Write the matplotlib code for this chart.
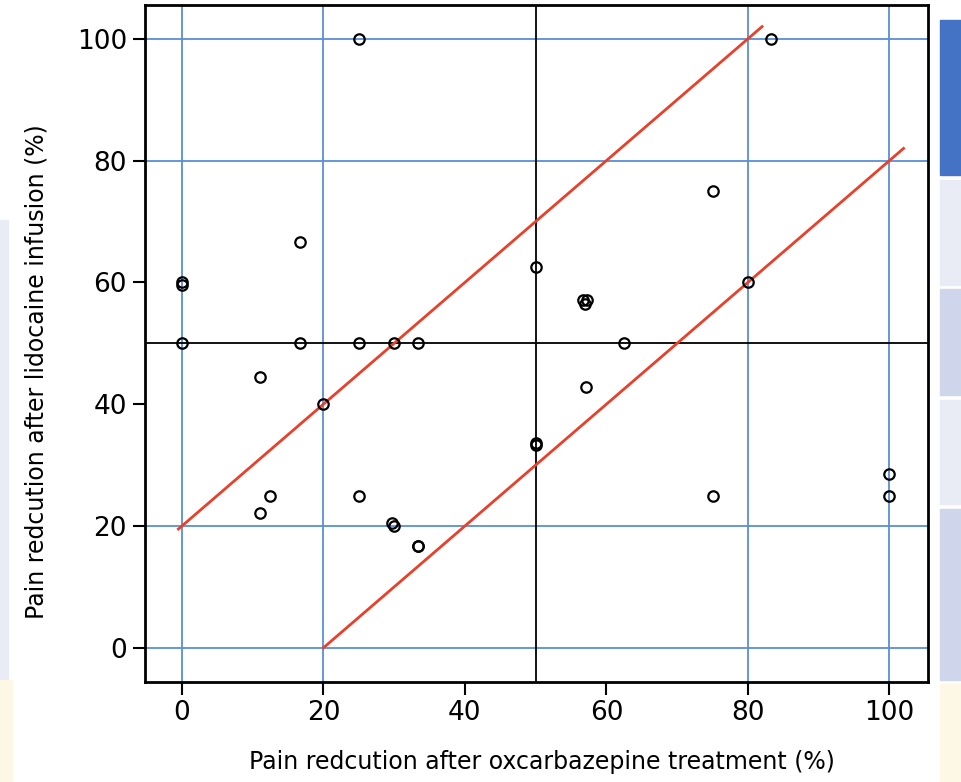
import numpy as np
import matplotlib.pyplot as plt
from matplotlib.patches import Rectangle

# pain reduction (%) per patient
oxc = [0, 0, 0, 25, 16.7, 16.7, 25, 30, 33.3, 11.1, 20, 12.5, 11.1, 25,
       29.7, 30, 33.3, 33.4, 50, 50, 50, 56.7, 57.3, 57.0, 62.5, 57.1,
       75, 80, 83.3, 75, 100, 100]
lido = [60, 59.6, 50, 100, 66.7, 50, 50, 50, 50, 44.4, 40, 25, 22.2, 25,
        20.5, 20, 16.7, 16.7, 62.5, 33.3, 33.6, 57.1, 57.1, 56.5, 50, 42.9,
        75, 60, 100, 25, 28.6, 25]

upper_x = [-0.5, 82]
lower_x = [20, 102]
offset = 20

grid_vals = [0, 20, 80, 100]
ticks = [0, 20, 40, 60, 80, 100]

plt.rcParams['font.family'] = ['DejaVu Sans']

fig = plt.figure(figsize=(9.61, 7.82), dpi=100)

# bits of the slide behind the chart
bg = [(0.0, 0.131, 0.008, 0.588, '#e9ebf5'),
      (0.0, 0.0, 0.012, 0.131, '#fdf8e6'),
      (0.978, 0.776, 0.022, 0.198, '#4472c4'),
      (0.978, 0.636, 0.022, 0.134, '#e9ebf5'),
      (0.978, 0.495, 0.022, 0.135, '#cfd5ea'),
      (0.978, 0.355, 0.022, 0.134, '#e9ebf5'),
      (0.978, 0.131, 0.022, 0.218, '#cfd5ea'),
      (0.978, 0.0, 0.022, 0.125, '#fdf8e6')]
for x0, y0, w, h, c in bg:
    fig.patches.append(Rectangle((x0, y0), w, h, transform=fig.transFigure,
                                 color=c, zorder=-1))

ax = fig.add_axes([0.151, 0.128, 0.815, 0.866])

for g in grid_vals:
    ax.axvline(g, color='#5b8fd6', lw=1.3, zorder=1)
    ax.axhline(g, color='#5b8fd6', lw=1.3, zorder=1)
ax.axvline(50, color='black', lw=1.3, zorder=1)
ax.axhline(50, color='black', lw=1.3, zorder=1)

ux = np.array(upper_x)
lx = np.array(lower_x)
ax.plot(ux, ux + offset, color='#e8402a', lw=2, zorder=2)
ax.plot(lx, lx - offset, color='#e8402a', lw=2, zorder=2)

ax.plot(oxc, lido, 'o', mfc='none', mec='black', ms=7.5, mew=1.6, zorder=3)

ax.set_xlim(-5.2, 105.5)
ax.set_ylim(-5.6, 105.6)
ax.set_xticks(ticks)
ax.set_yticks(ticks)
ax.tick_params(direction='out', length=9, width=1.5, labelsize=19, pad=4)
for s in ax.spines.values():
    s.set_linewidth(2)

ax.set_xlabel('Pain redcution after oxcarbazepine treatment (%)', fontsize=17)
ax.set_ylabel('Pain redcution after lidocaine infusion (%)', fontsize=17)
ax.xaxis.set_label_coords(0.507, -0.1)
ax.yaxis.set_label_coords(-0.123, 0.458)

fig.savefig('out.png', dpi=100)
